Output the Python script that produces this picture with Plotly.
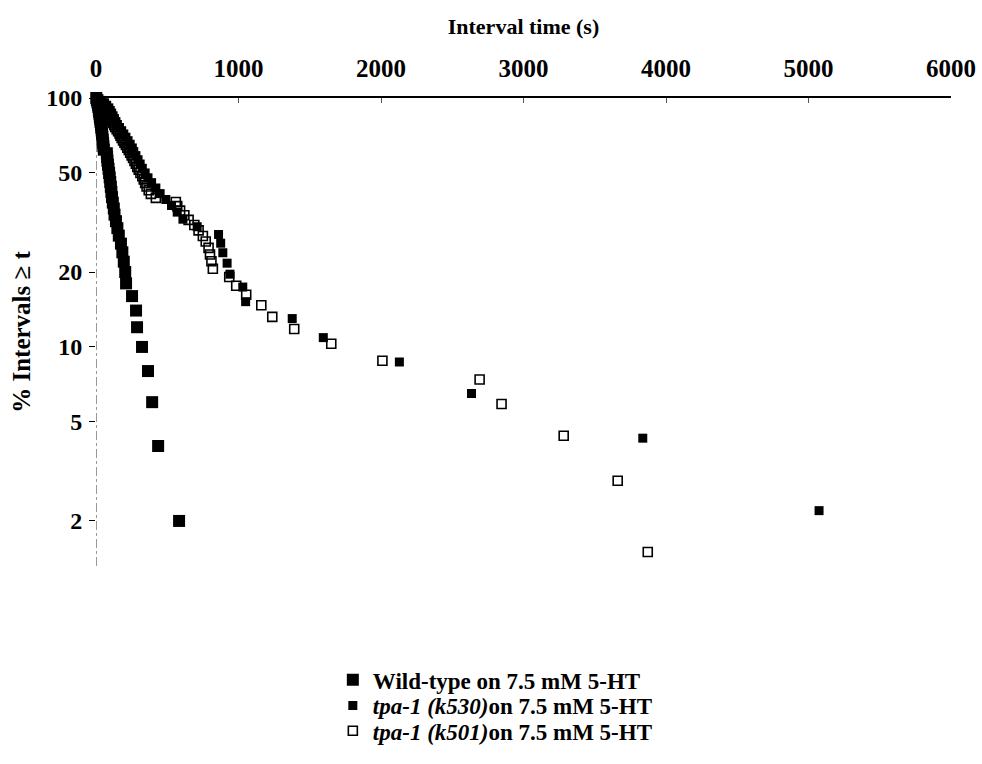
import plotly.graph_objects as go

# ---- data ----
wt_time = [2, 6, 10, 14, 17, 20, 22, 25, 27, 30, 32, 35, 37, 40, 42, 45, 47, 50, 52, 55,
           76, 78, 80, 84, 88, 92, 96, 100, 104, 108, 112, 118, 125, 130, 140, 150, 160,
           175, 185, 195, 205, 211, 253, 281, 288, 323, 365, 394, 436, 583]
wt_pct = [100, 98, 96, 94, 92, 90, 88, 86, 84, 82, 80, 78, 76, 74, 72, 70, 68, 66, 64, 62,
          60, 58, 56, 54, 52, 50, 48, 46, 44, 42, 40, 38, 36, 34, 32, 30, 28, 26, 24, 22,
          20, 18, 16, 14, 12, 10, 8, 6, 4, 2]

k530_time = [10, 40, 60, 75, 90, 100, 110, 120, 130, 140, 150, 165, 180, 195, 210, 225,
             240, 255, 265, 280, 295, 310, 325, 345, 365, 390, 420, 450, 490, 530, 570,
             610, 710, 860, 875, 890, 920, 940, 1030, 1050, 1377, 1595, 2129, 2635, 3837, 5074]
k530_pct = [100, 97.8, 95.7, 93.5, 91.3, 89.1, 87.0, 84.8, 82.6, 80.4, 78.3, 76.1, 73.9,
            71.7, 69.6, 67.4, 65.2, 63.0, 60.9, 58.7, 56.5, 54.3, 52.2, 50.0, 47.8, 45.7,
            43.5, 41.3, 39.1, 37.0, 34.8, 32.6, 30.4, 28.3, 26.1, 23.9, 21.7, 19.6, 17.4,
            15.2, 13.0, 10.9, 8.7, 6.5, 4.3, 2.2]

k501_time = [5, 15, 25, 35, 45, 55, 62, 70, 78, 85, 92, 98, 105, 112, 120, 128, 135, 145,
             155, 165, 172, 180, 190, 200, 210, 220, 230, 240, 250, 260, 270, 280, 290, 300,
             312, 325, 335, 345, 355, 370, 385, 420, 560, 570, 590, 620, 650, 690, 720, 750,
             770, 790, 800, 810, 820, 935, 984, 1054, 1160, 1237, 1391, 1651, 2010, 2692,
             2846, 3282, 3661, 3872]
k501_pct = [100, 98.5, 97.1, 95.6, 94.1, 92.6, 91.2, 89.7, 88.2, 86.8, 85.3, 83.8, 82.4,
            80.9, 79.4, 77.9, 76.5, 75.0, 73.5, 72.1, 70.6, 69.1, 67.6, 66.2, 64.7, 63.2,
            61.8, 60.3, 58.8, 57.4, 55.9, 54.4, 52.9, 51.5, 50.0, 48.5, 47.1, 45.6, 44.1,
            42.6, 41.2, 39.7, 38.2, 36.8, 35.3, 33.8, 32.4, 30.9, 29.4, 27.9, 26.5, 25.0,
            23.5, 22.1, 20.6, 19.1, 17.6, 16.2, 14.7, 13.2, 11.8, 10.3, 8.8, 7.4, 5.9, 4.4,
            2.9, 1.5]

x_ticks = [0, 1000, 2000, 3000, 4000, 5000, 6000]
y_ticks = [2, 5, 10, 20, 50, 100]
y_tick_labels = ["2", "5", "10", "20", "50", "100"]

names = ["Wild-type on 7.5 mM 5-HT",
         "<i>tpa-1 (k530)</i>on 7.5 mM 5-HT",
         "<i>tpa-1 (k501)</i>on 7.5 mM 5-HT"]

FONT = "Liberation Serif"

fig = go.Figure()
fig.add_trace(go.Scatter(x=wt_time, y=wt_pct, mode="markers", name=names[0],
                         cliponaxis=False, legend="legend",
                         marker=dict(symbol="square", size=12, color="black")))
fig.add_trace(go.Scatter(x=k530_time, y=k530_pct, mode="markers", name=names[1],
                         cliponaxis=False, legend="legend2",
                         marker=dict(symbol="square", size=9, color="black")))
fig.add_trace(go.Scatter(x=k501_time, y=k501_pct, mode="markers", name=names[2],
                         cliponaxis=False, legend="legend3",
                         marker=dict(symbol="square-open", size=9, color="black",
                                     line=dict(width=1.6, color="black"))))

# dashed vertical y-axis line
fig.add_shape(type="line", xref="x", yref="paper", x0=0, x1=0, y0=0, y1=1,
              line=dict(color="#333", width=1, dash="dashdot"), layer="below")

legend_font = dict(family=FONT, size=23, color="black", weight="bold")
def leg(y):
    return dict(x=0.277, y=y, xanchor="left", yanchor="middle", font=legend_font,
                itemsizing="trace", bgcolor="rgba(0,0,0,0)", borderwidth=0)

fig.update_layout(
    width=982, height=764,
    margin=dict(l=96, r=31, t=98, b=189),
    paper_bgcolor="white", plot_bgcolor="white",
    font=dict(family=FONT, color="black", size=20),
    showlegend=True,
    legend=leg(-0.243),
    legend2=leg(-0.298),
    legend3=leg(-0.352),
    xaxis=dict(side="top", range=[0, 6000], tickvals=x_ticks,
               ticktext=[str(v) for v in x_ticks], automargin=False,
               showgrid=False, zeroline=False,
               showline=True, linecolor="black", linewidth=2,
               ticks="inside", ticklen=5, tickcolor="#555", tickwidth=1,
               ticklabelstandoff=9,
               tickfont=dict(family=FONT, size=25, color="black", weight="bold"),
               title=dict(text="Interval time (s)", standoff=14,
                          font=dict(family=FONT, size=22, color="black", weight="bold"))),
    yaxis=dict(type="log", range=[0.12, 2.0], tickvals=y_ticks, ticktext=y_tick_labels,
               automargin=False,
               showgrid=False, zeroline=False, showline=False,
               ticks="outside", ticklen=6, tickcolor="black", tickwidth=1,
               ticklabelstandoff=2,
               tickfont=dict(family=FONT, size=24, color="black", weight="bold"),
               title=dict(text="% Intervals ≥ t", standoff=8,
                          font=dict(family=FONT, size=25, color="black", weight="bold"))),
)

fig.write_html("out.html", config={"displayModeBar": False},
               post_script="document.body.style.margin='0';")
